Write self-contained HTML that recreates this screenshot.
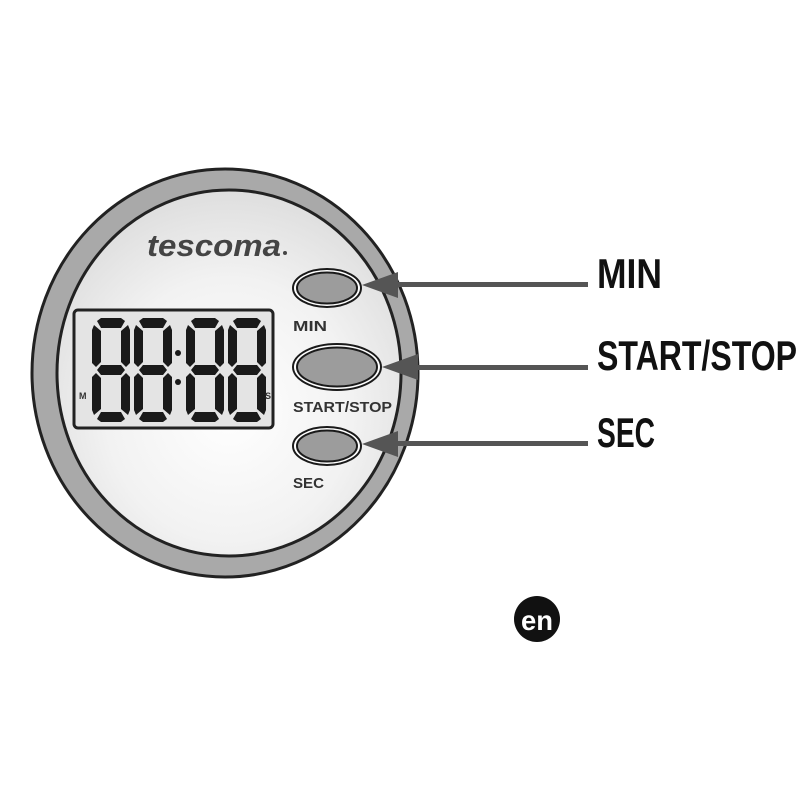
<!DOCTYPE html>
<html><head><meta charset="utf-8"><style>
html,body{margin:0;padding:0;background:#fff;width:800px;height:800px;overflow:hidden}
</style></head><body>
<svg width="800" height="800" viewBox="0 0 800 800" xmlns="http://www.w3.org/2000/svg">
<defs>
<radialGradient id="face" cx="0.5" cy="0.6" r="0.65">
<stop offset="0" stop-color="#ffffff"/><stop offset="0.55" stop-color="#f2f2f2"/><stop offset="1" stop-color="#dadada"/>
</radialGradient>
<g id="dig" fill="#1a1a1a">
<polygon points="9,0 29,0 33,3 29,10 9,10 5,3"/>
<polygon points="9,47 29,47 33,52 29,57 9,57 5,52"/>
<polygon points="9,94 29,94 33,101 29,104 9,104 5,101"/>
<polygon points="2,7 9,13 9,44 4,49 0,45 0,12"/>
<polygon points="36,7 29,13 29,44 34,49 38,45 38,12"/>
<polygon points="4,55 9,60 9,91 2,97 0,92 0,59"/>
<polygon points="34,55 29,60 29,91 36,97 38,92 38,59"/>
</g>
</defs>
<ellipse cx="225" cy="373" rx="193" ry="204" fill="#a9a9a9" stroke="#222" stroke-width="3"/>
<ellipse cx="229" cy="373" rx="172" ry="183" fill="url(#face)" stroke="#222" stroke-width="3"/>
<text x="147" y="256" font-family="Liberation Sans, sans-serif" font-weight="bold" font-style="italic" font-size="31" fill="#444" textLength="134" lengthAdjust="spacingAndGlyphs">tescoma</text>
<circle cx="285" cy="253" r="2" fill="#444"/>
<rect x="74" y="310" width="199" height="118" rx="4" fill="#e4e4e4" stroke="#222" stroke-width="3"/>
<use href="#dig" x="92" y="318"/>
<use href="#dig" x="134" y="318"/>
<use href="#dig" x="186" y="318"/>
<use href="#dig" x="228" y="318"/>
<circle cx="178" cy="353" r="3" fill="#1a1a1a"/>
<circle cx="178" cy="382" r="3" fill="#1a1a1a"/>
<text x="79" y="399" font-family="Liberation Sans, sans-serif" font-weight="bold" font-size="9" fill="#333">M</text>
<text x="265" y="399" font-family="Liberation Sans, sans-serif" font-weight="bold" font-size="9" fill="#333">S</text>
<g stroke="#1a1a1a">
<ellipse cx="327" cy="288" rx="34" ry="19" fill="#fff" stroke-width="2"/>
<ellipse cx="327" cy="288" rx="30" ry="15.5" fill="#9c9c9c" stroke-width="2"/>
<ellipse cx="337" cy="367" rx="44" ry="23" fill="#fff" stroke-width="2"/>
<ellipse cx="337" cy="367" rx="40" ry="19.5" fill="#9c9c9c" stroke-width="2"/>
<ellipse cx="327" cy="446" rx="34" ry="19" fill="#fff" stroke-width="2"/>
<ellipse cx="327" cy="446" rx="30" ry="15.5" fill="#9c9c9c" stroke-width="2"/>
</g>
<g font-family="Liberation Sans, sans-serif" font-weight="bold" font-size="15" fill="#333">
<text x="293" y="331" textLength="34" lengthAdjust="spacingAndGlyphs">MIN</text>
<text x="293" y="412" textLength="99" lengthAdjust="spacingAndGlyphs">START/STOP</text>
<text x="293" y="488" textLength="31" lengthAdjust="spacingAndGlyphs">SEC</text>
</g>
<g fill="#555">
<rect x="390" y="282" width="198" height="5"/>
<polygon points="362,285 398,272 398,298"/>
<rect x="410" y="365" width="178" height="5"/>
<polygon points="382,367 418,354 418,380"/>
<rect x="390" y="441" width="198" height="5"/>
<polygon points="362,444 398,431 398,457"/>
</g>
<g font-family="Liberation Sans, sans-serif" font-weight="bold" font-size="42" fill="#111">
<text x="597" y="288" textLength="65" lengthAdjust="spacingAndGlyphs">MIN</text>
<text x="597" y="370" textLength="200" lengthAdjust="spacingAndGlyphs">START/STOP</text>
<text x="597" y="447" textLength="58" lengthAdjust="spacingAndGlyphs">SEC</text>
</g>
<circle cx="537" cy="619" r="23" fill="#111"/>
<text x="537" y="630" text-anchor="middle" font-family="Liberation Sans, sans-serif" font-weight="bold" font-size="28" fill="#fff" textLength="32" lengthAdjust="spacingAndGlyphs">en</text>
</svg>
</body></html>
